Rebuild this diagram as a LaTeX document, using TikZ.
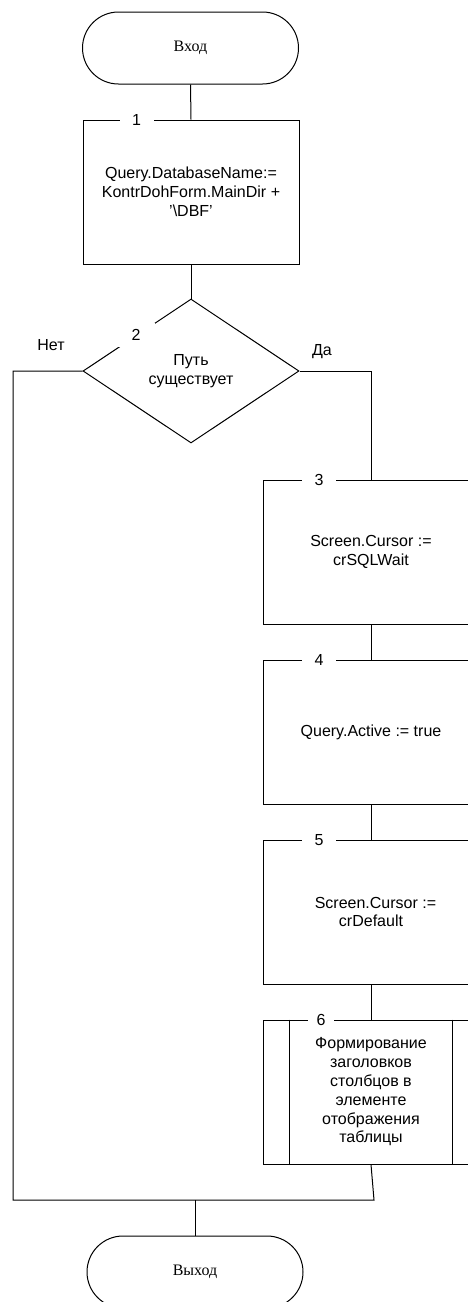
\documentclass[tikz,border=0pt]{standalone}
\usepackage{fontspec}
\setmainfont{Liberation Sans}
\newfontfamily\serifcyr{Liberation Serif}
\usetikzlibrary{shapes.geometric}
\begin{document}
\begin{tikzpicture}[x=1pt,y=-1pt, line width=1pt,
  every node/.style={font=\fontsize{16}{18.8}\selectfont},
  term/.style={draw, rounded corners=36, minimum width=216, minimum height=72, inner sep=0,
    font=\serifcyr\fontsize{16}{18.8}\selectfont},
  proc/.style={draw, minimum width=216, minimum height=144, inner sep=0, align=center},
  num/.style={fill=white, inner sep=0, minimum width=34, minimum height=18},
  dec/.style={draw, diamond, minimum width=216, minimum height=144, inner sep=0, align=center},
  lbl/.style={inner sep=0},
  conn/.style={draw, line width=1pt}]
\useasboundingbox (0,0) rectangle (468,1302);
\clip (0,0) rectangle (468,1302);

% nodes
\node[term] (start) at (190.5,48) {Вход};
\node[proc] (b1) at (191,192) {Query.DatabaseName:=\\KontrDohForm.MainDir +\\'\textbackslash DBF'};
\node[num] (n1) at (136.5,120) {1};

\node[dec] (d) at (191,371) {Путь\\существует};
\node[fill=white, inner sep=0, minimum width=38, minimum height=24] (n2) at (136,335) {2};
\node[lbl] (no) at (51,345) {Нет};
\node[lbl] (yes) at (322,352) {Да};

\node[proc] (b3) at (371,552) {Screen.Cursor :=\\crSQLWait};
\node[num] (n3) at (319,480) {3};
\node[proc] (b4) at (371,732) {Query.Active := true};
\node[num] (n4) at (319,660) {4};
\node[proc] (b5) at (371,912) {\hspace*{9pt}Screen.Cursor :=\\crDefault};
\node[num] (n5) at (319,840) {5};
\node[proc] (b6) at (371,1092) {Формирование\\заголовков\\столбцов в\\элементе\\отображения\\таблицы};
\draw ([xshift=27pt]b6.north west) -- ([xshift=27pt]b6.south west);
\draw ([xshift=-27pt]b6.north east) -- ([xshift=-27pt]b6.south east);
\node[fill=white, inner sep=0, minimum width=26, minimum height=18] (n6) at (321,1020) {6};

\node[term] (exit) at (195,1272) {Выход};

% coordinates
\coordinate (nl) at (13,371);
\coordinate (bl) at (13,1200);
\coordinate (br) at (374,1200);
\coordinate (jn) at (195,1200);

% connectors
\path[conn] (start.south) -- (b1.north);
\path[conn] (b1.south) -- (d.north);
\path[conn] (d.east) -| (b3.north);
\path[conn] (b3.south) -- (b4.north);
\path[conn] (b4.south) -- (b5.north);
\path[conn] (b5.south) -- (b6.north);
\path[conn] (b6.south) -- (br) -- (bl) -- (nl) -- (d.west);
\path[conn] (jn) -- (exit.north);
\end{tikzpicture}
\end{document}
